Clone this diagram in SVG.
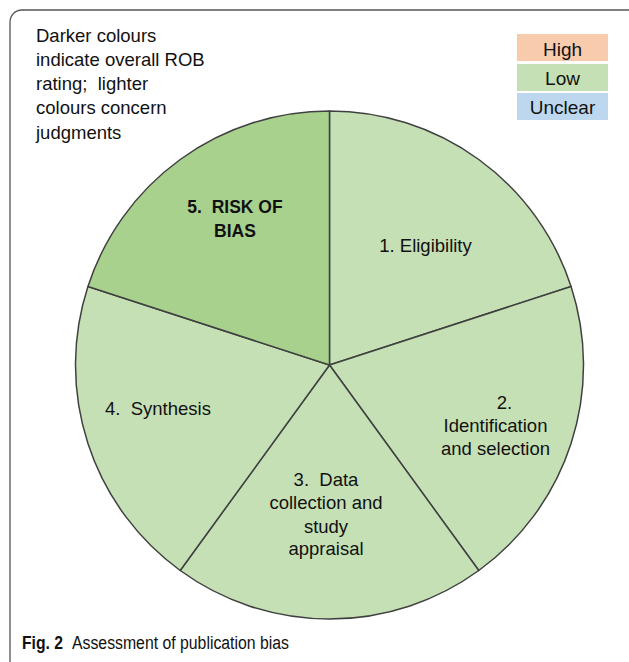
<svg xmlns="http://www.w3.org/2000/svg" width="629" height="662" viewBox="0 0 629 662">
<style>
.t{font-family:"Liberation Sans",Arial,sans-serif;font-size:18.5px;fill:#111;white-space:pre}
.c{text-anchor:middle}
.b{font-weight:bold}
.sl{stroke:#404040;stroke-width:1.5;stroke-linejoin:round}
.lt{fill:#C5E0B4}
.dk{fill:#A9D18E}
</style>
<rect x="0" y="0" width="629" height="662" fill="#ffffff"/>
<rect x="10" y="10" width="640" height="670" rx="12" ry="12" fill="none" stroke="#555" stroke-width="1.3"/>
<g id="legend-text">
<text class="t" x="36" y="41.7" xml:space="preserve">Darker colours</text>
<text class="t" x="36" y="65.9" xml:space="preserve">indicate overall ROB</text>
<text class="t" x="36" y="90.1" xml:space="preserve">rating;  lighter</text>
<text class="t" x="36" y="114.3" xml:space="preserve">colours concern</text>
<text class="t" x="36" y="138.5" xml:space="preserve">judgments</text>
</g>
<g id="legend">
<rect x="517" y="34" width="91" height="27" fill="#F8CBAD"/>
<rect x="517" y="64" width="91" height="27" fill="#C5E0B4"/>
<rect x="517" y="93" width="91" height="27" fill="#BDD7EE"/>
<text class="t c" x="562.5" y="55.7" style="font-size:19px">High</text>
<text class="t c" x="562.5" y="85" style="font-size:19px">Low</text>
<text class="t c" x="562.5" y="114" style="font-size:19px">Unclear</text>
</g>
<g id="slice1">
<path class="sl lt" d="M329.5,365 L329.5,111 A254,254 0 0 1 571.07,286.51 Z"/>
<text class="t c" x="425.5" y="251.7">1. Eligibility</text>
</g>
<g id="slice2">
<path class="sl lt" d="M329.5,365 L571.07,286.51 A254,254 0 0 1 478.8,570.49 Z"/>
<text class="t c" x="504.5" y="409">2.</text>
<text class="t c" x="495.5" y="432">Identification</text>
<text class="t c" x="495.5" y="455">and selection</text>
</g>
<g id="slice3">
<path class="sl lt" d="M329.5,365 L478.8,570.49 A254,254 0 0 1 180.2,570.49 Z"/>
<text class="t c" x="326" y="486" xml:space="preserve">3.  Data</text>
<text class="t c" x="326" y="509">collection and</text>
<text class="t c" x="326" y="532.5">study</text>
<text class="t c" x="326" y="555">appraisal</text>
</g>
<g id="slice4">
<path class="sl lt" d="M329.5,365 L180.2,570.49 A254,254 0 0 1 87.93,286.51 Z"/>
<text class="t" x="105" y="415" xml:space="preserve">4.  Synthesis</text>
</g>
<g id="slice5">
<path class="sl dk" d="M329.5,365 L87.93,286.51 A254,254 0 0 1 329.5,111 Z"/>
<text class="t c b" x="235" y="213.3" style="font-size:17.5px" xml:space="preserve">5.  RISK OF</text>
<text class="t c b" x="235" y="236.7" style="font-size:17.5px">BIAS</text>
</g>
<g id="connectors"></g>
<g id="caption">
<text class="t b" x="22" y="649" style="font-size:18.5px" textLength="41" lengthAdjust="spacingAndGlyphs">Fig. 2</text>
<text class="t" x="72" y="649" style="font-size:18px" textLength="217" lengthAdjust="spacingAndGlyphs">Assessment of publication bias</text>
</g>
</svg>
